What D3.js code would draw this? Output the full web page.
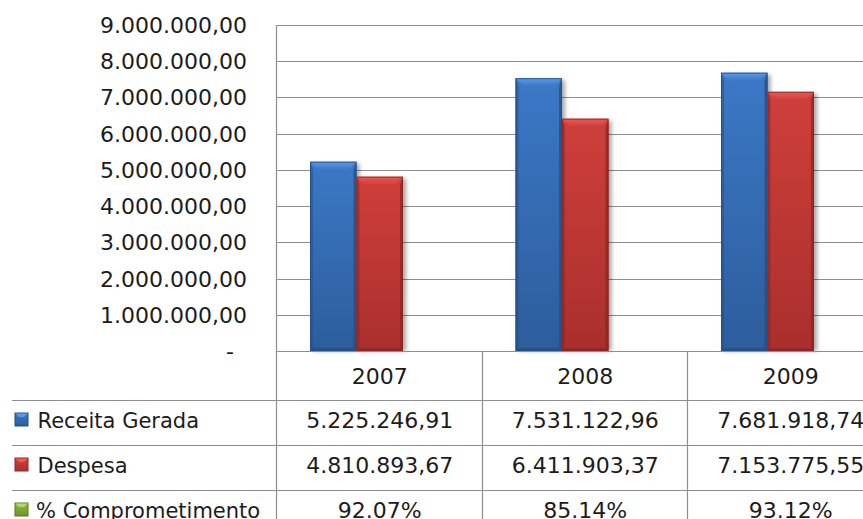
<!DOCTYPE html>
<html>
<head>
<meta charset="utf-8">
<script src="https://cdn.jsdelivr.net/npm/d3@7"></script>
<style>
  html, body { margin: 0; padding: 0; background: #ffffff; }
  svg { display: block; }
  text { font-family: "DejaVu Sans", sans-serif; fill: #1c1c1c; }
</style>
</head>
<body>
<svg id="chart" width="863" height="519"></svg>
<script>
// ---- data ----
const years = ["2007", "2008", "2009"];
const seriesNames = ["Receita Gerada", "Despesa", "% Comprometimento"];
const receita = [5225246.91, 7531122.96, 7681918.74];
const despesa = [4810893.67, 6411903.37, 7153775.55];
const comprometimento = [0.9207, 0.8514, 0.9312];
const receitaLabels = ["5.225.246,91", "7.531.122,96", "7.681.918,74"];
const despesaLabels = ["4.810.893,67", "6.411.903,37", "7.153.775,55"];
const comprometimentoLabels = ["92.07%", "85.14%", "93.12%"];
const yTicks = [0, 1000000, 2000000, 3000000, 4000000, 5000000, 6000000, 7000000, 8000000, 9000000];

const seriesValues = [receita, despesa, comprometimento];
const seriesLabels = [receitaLabels, despesaLabels, comprometimentoLabels];
const seriesColors = [
  { light: "#5b9be6", mid: "#3b78c6", dark: "#2c5d9c", edge: "#244f86" },
  { light: "#ea5a55", mid: "#cf3f3b", dark: "#a92f2c", edge: "#8c2624" },
  { light: "#b2d96a", mid: "#8db93f", dark: "#6d942c", edge: "#5a7b22" }
];

// ---- layout ----
const svg = d3.select("#chart");
const plotLeft = 277, plotTop = 25, plotBottom = 351, catW = 205.5;
const plotRight = plotLeft + catW * years.length;
const tableLeft = 12;
const rowH = 45;

const y = d3.scaleLinear().domain([0, 9000000]).range([plotBottom, plotTop]);
const x = d3.scaleBand().domain(years).range([plotLeft, plotRight]).padding(0);
const xs = d3.scaleBand().domain(seriesNames).range([33, catW - 33]).padding(0);

const locale = d3.formatLocale({ decimal: ",", thousands: ".", grouping: [3], currency: ["", ""] });
const fmt = locale.format(",.2f");

const defs = svg.append("defs");
seriesColors.forEach((c, i) => {
  const g = defs.append("linearGradient").attr("id", "body" + i).attr("x1", 0).attr("y1", 0).attr("x2", 0).attr("y2", 1);
  g.append("stop").attr("offset", "0%").attr("stop-color", c.mid);
  g.append("stop").attr("offset", "100%").attr("stop-color", c.dark);
  const t = defs.append("linearGradient").attr("id", "top" + i).attr("x1", 0).attr("y1", 0).attr("x2", 0).attr("y2", 1);
  t.append("stop").attr("offset", "0%").attr("stop-color", c.light);
  t.append("stop").attr("offset", "100%").attr("stop-color", c.mid);
});
const blur = defs.append("filter").attr("id", "shadow").attr("x", "-20%").attr("y", "-5%").attr("width", "140%").attr("height", "110%");
blur.append("feGaussianBlur").attr("stdDeviation", 2);

// ---- grid + axis labels ----
const lineColor = "#8e8e8e";
svg.append("g").selectAll("line").data(yTicks).join("line")
  .attr("x1", plotLeft).attr("x2", 863)
  .attr("y1", d => Math.round(y(d)) + 0.5).attr("y2", d => Math.round(y(d)) + 0.5)
  .attr("stroke", lineColor).attr("stroke-width", 1.2);

svg.append("g").selectAll("text").data(yTicks).join("text")
  .attr("x", d => d === 0 ? 234 : 247)
  .attr("y", d => y(d) + 8)
  .attr("text-anchor", "end")
  .attr("font-size", 22)
  .text(d => d === 0 ? "-" : fmt(d));

// plot left border (extends through the table)
svg.append("line").attr("x1", plotLeft - 0.5).attr("x2", plotLeft - 0.5)
  .attr("y1", plotTop).attr("y2", 519).attr("stroke", lineColor).attr("stroke-width", 1.2);

// ---- bars ----
const barsG = svg.append("g");
seriesNames.forEach((s, si) => {
  years.forEach((yr, yi) => {
    const v = seriesValues[si][yi];
    const bx = x(yr) + xs(s);
    const bw = xs.bandwidth();
    const by = y(v);
    const bh = plotBottom - by;
    if (bh < 1) return;
    const g = barsG.append("g");
    const c = seriesColors[si];
    // shadow
    g.append("rect").attr("x", bx + 3).attr("y", by + 2).attr("width", bw).attr("height", bh - 2)
      .attr("fill", "#000").attr("opacity", 0.35).attr("filter", "url(#shadow)");
    // body
    g.append("rect").attr("x", bx).attr("y", by).attr("width", bw).attr("height", bh)
      .attr("fill", "url(#body" + si + ")");
    const bev = 8, side = 3;
    // left / right bevels
    g.append("polygon").attr("points", [[bx, by], [bx + side, by + bev], [bx + side, plotBottom - side], [bx, plotBottom]].join(" "))
      .attr("fill", c.edge).attr("opacity", 0.55);
    g.append("polygon").attr("points", [[bx + bw, by], [bx + bw - side, by + bev], [bx + bw - side, plotBottom - side], [bx + bw, plotBottom]].join(" "))
      .attr("fill", c.edge).attr("opacity", 0.75);
    // bottom bevel
    g.append("polygon").attr("points", [[bx, plotBottom], [bx + side, plotBottom - side], [bx + bw - side, plotBottom - side], [bx + bw, plotBottom]].join(" "))
      .attr("fill", c.edge).attr("opacity", 0.8);
    // top bevel
    g.append("polygon").attr("points", [[bx, by], [bx + bw, by], [bx + bw - bev, by + bev], [bx + bev, by + bev]].join(" "))
      .attr("fill", "url(#top" + si + ")");
    // outline
    g.append("rect").attr("x", bx + 0.5).attr("y", by + 0.5).attr("width", bw - 1).attr("height", bh - 1)
      .attr("fill", "none").attr("stroke", c.edge).attr("stroke-width", 1).attr("opacity", 0.8);
  });
});

// redraw baseline over bars
svg.append("line").attr("x1", plotLeft).attr("x2", 863).attr("y1", plotBottom + 0.5).attr("y2", plotBottom + 0.5)
  .attr("stroke", lineColor).attr("stroke-width", 1.2);

// ---- data table ----
const tbl = svg.append("g");
[1, 2, 3].forEach(r => {
  tbl.append("line").attr("x1", tableLeft).attr("x2", 863)
    .attr("y1", plotBottom + r * rowH + 4.5 - (r - 1) * 0).attr("y2", plotBottom + r * rowH + 4.5)
    .attr("stroke", lineColor).attr("stroke-width", 1.2);
});
// column dividers
years.forEach((yr, i) => {
  if (i === 0) return;
  tbl.append("line").attr("x1", Math.round(x(yr)) - 0.5).attr("x2", Math.round(x(yr)) - 0.5)
    .attr("y1", plotBottom).attr("y2", 519).attr("stroke", lineColor).attr("stroke-width", 1.2);
});
// year headers
tbl.selectAll("text.yr").data(years).join("text").attr("class", "yr")
  .attr("x", d => x(d) + catW / 2).attr("y", 384)
  .attr("text-anchor", "middle").attr("font-size", 22).text(d => d);

const rowBase = [428, 473, 518];
seriesNames.forEach((s, si) => {
  // legend key
  const ky = rowBase[si] - 15;
  const c = seriesColors[si];
  tbl.append("rect").attr("x", 15).attr("y", ky).attr("width", 13).attr("height", 13)
    .attr("fill", "url(#body" + si + ")").attr("stroke", c.edge).attr("stroke-width", 1);
  tbl.append("polygon").attr("points", [[15.5, ky + 0.5], [27.5, ky + 0.5], [24, ky + 4], [19, ky + 4]].join(" "))
    .attr("fill", c.light);
  tbl.append("text").attr("x", si === 2 ? 36 : 37.5).attr("y", rowBase[si])
    .attr("font-size", 21).text(s);
  years.forEach((yr, yi) => {
    tbl.append("text").attr("x", x(yr) + catW / 2).attr("y", rowBase[si])
      .attr("text-anchor", "middle").attr("font-size", 22).text(seriesLabels[si][yi]);
  });
});
</script>
</body>
</html>
